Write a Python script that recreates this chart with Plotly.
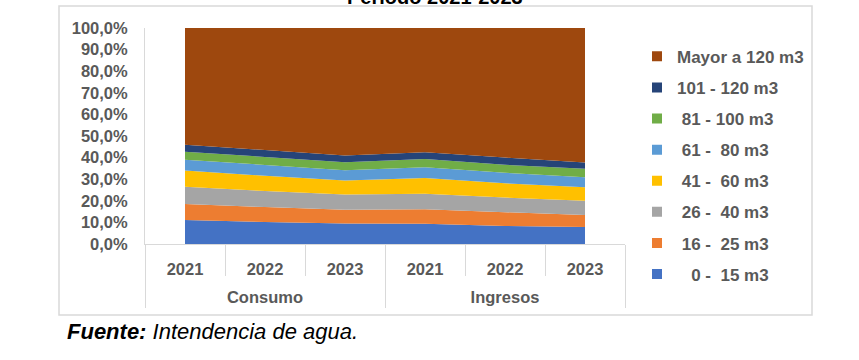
import plotly.graph_objects as go

groups = ["Consumo", "Consumo", "Consumo", "Ingresos", "Ingresos", "Ingresos"]
years = ["2021", "2022", "2023", "2021", "2022", "2023"]
group_labels = ["Consumo", "Ingresos"]

series_names = [
    "\u00a0\u00a0\u00a00 - \u00a015 m3",
    "\u00a016 - \u00a025 m3",
    "\u00a026 - \u00a040 m3",
    "\u00a041 - \u00a060 m3",
    "\u00a061 - \u00a080 m3",
    "\u00a081 - 100 m3",
    "101 - 120 m3",
    "Mayor a 120 m3",
]
colors = ["#4472C4", "#ED7D31", "#A5A5A5", "#FFC000", "#5B9BD5", "#70AD47", "#264478", "#9E480E"]

v_0_15 = [11.1, 10.2, 9.5, 9.4, 8.3, 7.9]
v_16_25 = [7.4, 6.9, 6.3, 6.7, 6.4, 5.5]
v_26_40 = [8.0, 7.4, 7.1, 7.2, 6.8, 6.6]
v_41_60 = [7.5, 7.1, 6.5, 7.2, 6.6, 6.3]
v_61_80 = [5.0, 5.0, 4.7, 5.0, 4.9, 4.6]
v_81_100 = [3.7, 3.7, 3.7, 3.9, 3.7, 3.9]
v_101_120 = [3.3, 3.2, 3.2, 3.1, 3.3, 2.9]
v_mayor = [54.0, 56.5, 59.0, 57.5, 60.0, 62.3]

series_values = [v_0_15, v_16_25, v_26_40, v_41_60, v_61_80, v_81_100, v_101_120, v_mayor]

y_tick_values = [0, 10, 20, 30, 40, 50, 60, 70, 80, 90, 100]
y_tick_labels = ["0,0%", "10,0%", "20,0%", "30,0%", "40,0%", "50,0%",
                 "60,0%", "70,0%", "80,0%", "90,0%", "100,0%"]

FONT = "Liberation Sans, Arial, sans-serif"
GRAY = "#595959"
LINE = "#D9D9D9"

pos = list(range(len(years)))
inner_bounds = [p - 0.5 for p in pos] + [pos[-1] + 0.5]
group_centers = []
group_bounds = [pos[0] - 0.5]
for g in group_labels:
    idx = [p for p, gg in zip(pos, groups) if gg == g]
    group_centers.append(sum(idx) / len(idx))
    group_bounds.append(idx[-1] + 0.5)

fig = go.Figure()
for name, vals, col in zip(series_names, series_values, colors):
    fig.add_trace(go.Scatter(
        x=pos, y=vals, name=name, stackgroup="one", groupnorm="percent",
        mode="none", fillcolor=col, line=dict(width=0), showlegend=False,
        hoverinfo="skip"))

# legend entries (square markers), top-to-bottom from the largest range
for i, (name, col) in reversed(list(enumerate(zip(series_names, colors)))):
    fig.add_trace(go.Scatter(
        x=[None], y=[None], xaxis="x2", name=name, mode="markers",
        marker=dict(symbol="square", size=10, color=col),
        legendgroup="g%d" % i, showlegend=True))

tickfont = dict(family=FONT, size=16.5, color=GRAY, weight="bold")

fig.update_layout(
    width=859, height=360,
    margin=dict(l=145, r=234, t=28, b=116),
    paper_bgcolor="white", plot_bgcolor="white",
    font=dict(family=FONT, color=GRAY, size=16),
    showlegend=True,
    legend=dict(x=1.025, xanchor="left", y=0.95, yanchor="top", traceorder="grouped",
                tracegroupgap=6, maxheight=320,
                font=dict(family=FONT, size=17, color=GRAY, weight="bold"),
                bgcolor="rgba(0,0,0,0)"),
    xaxis=dict(range=[-0.5, 5.5], showline=True, linecolor=LINE, linewidth=1, showgrid=False,
               zeroline=False, tickvals=pos, ticktext=years, ticks="", ticklabelstandoff=10,
               tickfont=tickfont,
               minor=dict(tickvals=inner_bounds, ticks="outside", ticklen=31, tickcolor=LINE,
                          tickwidth=1, showgrid=False)),
    xaxis2=dict(overlaying="x", anchor="y", side="bottom", range=[-0.5, 5.5], showline=False,
                showgrid=False, zeroline=False, tickvals=group_centers, ticktext=group_labels,
                ticks="", ticklabelstandoff=41, tickfont=tickfont,
                minor=dict(tickvals=group_bounds, ticks="outside", ticklen=63, tickcolor=LINE,
                           tickwidth=1, showgrid=False)),
    yaxis=dict(range=[0, 100], tickvals=y_tick_values, ticktext=y_tick_labels,
               showline=True, linecolor=LINE, linewidth=1, showgrid=False, zeroline=False,
               ticks="", ticklabelstandoff=13, tickfont=tickfont),
)

# outer border of the chart area
fig.add_shape(type="rect", xref="paper", yref="paper",
              x0=(59 - 145) / 480, x1=(812 - 145) / 480, y0=(244 - 315) / 216, y1=(244 - 6) / 216,
              line=dict(color=LINE, width=1.5), fillcolor="rgba(0,0,0,0)", layer="below")

# title (cut off at the top edge, as in the source)
fig.add_annotation(xref="paper", yref="paper", x=(435 - 145) / 480, y=(244 + 3) / 216,
                   xanchor="center", yanchor="middle", showarrow=False,
                   text="<b>Periodo 2021-2023</b>",
                   font=dict(family=FONT, size=20, color="black"))

fig.add_annotation(xref="paper", yref="paper", x=(65 - 145) / 480, y=(244 - 331) / 216,
                   xanchor="left", yanchor="middle", showarrow=False,
                   text="<b><i>Fuente:</i></b><i> Intendencia de agua.</i>",
                   font=dict(family=FONT, size=22, color="black"))

fig.write_html("out.html", config={"displayModeBar": False},
               post_script="document.body.style.margin='0px';")
